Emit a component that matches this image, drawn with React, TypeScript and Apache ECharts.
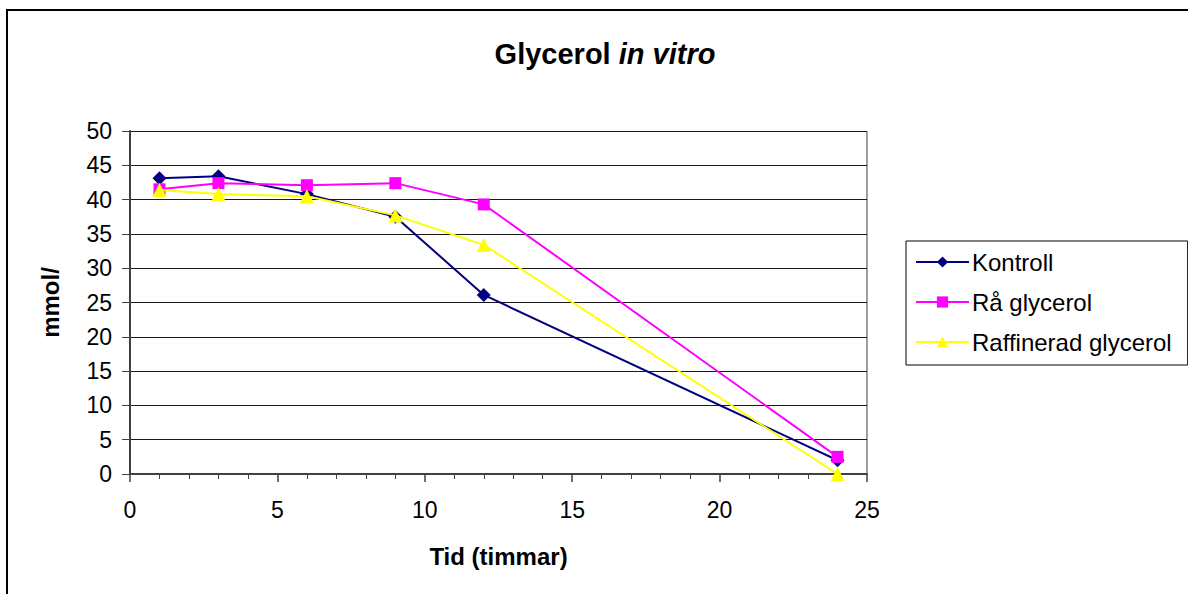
import React, { useEffect, useRef } from "react";
import * as echarts from "echarts";

const hours = [1, 3, 6, 9, 12, 24];
const kontroll = [43.1, 43.4, 40.8, 37.5, 26.1, 2.0];
const raGlycerol = [41.5, 42.4, 42.1, 42.4, 39.3, 2.5];
const raffinerad = [41.4, 40.8, 40.5, 37.7, 33.4, 0];
const seriesNames = ["Kontroll", "Rå glycerol", "Raffinerad glycerol"];

const pairs = (ys: number[]) => hours.map((h, i) => [h, ys[i]]);

export default function App() {
  const ref = useRef<HTMLDivElement>(null);
  useEffect(() => {
    const chart = echarts.init(ref.current!, undefined, { renderer: "svg" });
    const font = "Arial, 'Liberation Sans', sans-serif";
    chart.setOption({
      animation: false,
      backgroundColor: "#ffffff",
      textStyle: { fontFamily: font },
      title: {
        text: "{b|Glycerol }{i|in vitro}",
        left: 600,
        top: 34,
        textAlign: "center",
        textStyle: {
          rich: {
            b: { fontSize: 29, fontWeight: "bold", fontFamily: font, color: "#000" },
            i: { fontSize: 29, fontWeight: "bold", fontStyle: "italic", fontFamily: font, color: "#000" },
          },
        },
      },
      graphic: [
        {
          type: "rect",
          shape: { x: 7, y: 10, width: 1200, height: 600 },
          style: { fill: "none", stroke: "#000", lineWidth: 2 },
          silent: true,
        },
        {
          type: "line",
          shape: { x1: 867, y1: 131, x2: 867, y2: 474 },
          style: { stroke: "#808080", lineWidth: 1.5 },
          silent: true,
        },
      ],
      grid: { left: 130, top: 131, width: 737, height: 343 },
      legend: {
        orient: "vertical",
        left: 906,
        top: 241,
        padding: [9, 16, 11, 9],
        itemGap: 16,
        itemWidth: 53,
        itemHeight: 14,
        borderColor: "#000",
        borderWidth: 1,
        textStyle: { fontSize: 24, color: "#000", fontFamily: font, padding: [0, 0, 0, -2] },
        data: seriesNames,
      },
      xAxis: {
        type: "value",
        min: 0,
        max: 25,
        interval: 5,
        name: "Tid (timmar)",
        nameLocation: "middle",
        nameGap: 70,
        nameTextStyle: { fontSize: 24, fontWeight: "bold", color: "#000", fontFamily: font },
        axisLine: { lineStyle: { color: "#404040", width: 2 } },
        axisTick: { show: true, length: 8, lineStyle: { color: "#404040", width: 1.5 } },
        minorTick: { show: true, splitNumber: 5, length: 5, lineStyle: { color: "#404040" } },
        axisLabel: { fontSize: 23, color: "#000", margin: 24, fontFamily: font },
        splitLine: { show: false },
      },
      yAxis: {
        type: "value",
        min: 0,
        max: 50,
        interval: 5,
        name: "mmol/",
        nameLocation: "middle",
        nameRotate: 90,
        nameGap: 68,
        nameTextStyle: { fontSize: 24, fontWeight: "bold", color: "#000", fontFamily: font },
        axisLine: { show: true, lineStyle: { color: "#404040", width: 2 } },
        axisTick: { show: true, length: 8, lineStyle: { color: "#404040" } },
        axisLabel: { fontSize: 23, color: "#000", margin: 18, fontFamily: font },
        splitLine: { show: true, lineStyle: { color: "#1a1a1a", width: 1 } },
      },
      series: [
        {
          name: seriesNames[0],
          type: "line",
          data: pairs(kontroll),
          symbol: "diamond",
          symbolSize: 14,
          itemStyle: { color: "#000080" },
          lineStyle: { color: "#000080", width: 2 },
          z: 3,
        },
        {
          name: seriesNames[1],
          type: "line",
          data: pairs(raGlycerol),
          symbol: "rect",
          symbolSize: 12,
          itemStyle: { color: "#ff00ff" },
          lineStyle: { color: "#ff00ff", width: 2 },
          z: 4,
        },
        {
          name: seriesNames[2],
          type: "line",
          data: pairs(raffinerad),
          symbol: "triangle",
          symbolSize: 14,
          itemStyle: { color: "#ffff00" },
          lineStyle: { color: "#ffff00", width: 2 },
          z: 5,
        },
      ],
    });
    return () => chart.dispose();
  }, []);
  return (
    <div
      ref={ref}
      style={{ position: "fixed", left: 0, top: 0, width: 1188, height: 594 }}
    />
  );
}
